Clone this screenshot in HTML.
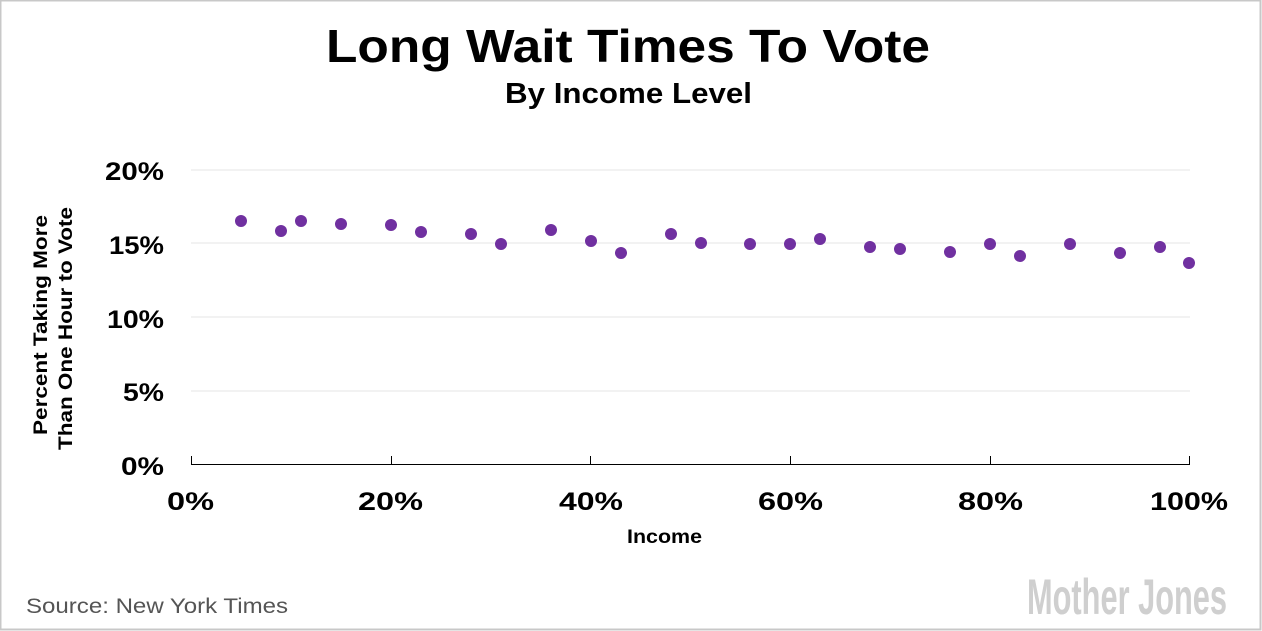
<!DOCTYPE html>
<html><head><meta charset="utf-8"><style>
html,body{margin:0;padding:0;background:#fff;}
svg{display:block;font-family:"Liberation Sans",sans-serif;}
</style></head><body>
<svg width="1262" height="631" viewBox="0 0 1262 631" xmlns="http://www.w3.org/2000/svg">
<rect x="0.5" y="0.5" width="1260" height="629" fill="#fff" stroke="#c8c8c8" stroke-width="2"/>
<text x="326" y="62" font-size="46" font-weight="bold" fill="#000" textLength="604" lengthAdjust="spacingAndGlyphs">Long Wait Times To Vote</text>
<text x="505" y="103" font-size="29" font-weight="bold" fill="#000" textLength="247" lengthAdjust="spacingAndGlyphs">By Income Level</text>
<g stroke="#e4e4e4" stroke-width="1">
<line x1="191" x2="1190" y1="170" y2="170"/>
<line x1="191" x2="1190" y1="243" y2="243"/>
<line x1="191" x2="1190" y1="317" y2="317"/>
<line x1="191" x2="1190" y1="391" y2="391"/>
</g>
<g stroke="#000" stroke-width="1">
<line x1="191" x2="1190" y1="464.5" y2="464.5"/>
<line x1="191.5" x2="191.5" y1="456" y2="464"/>
<line x1="391.5" x2="391.5" y1="456" y2="464"/>
<line x1="590.5" x2="590.5" y1="456" y2="464"/>
<line x1="790.5" x2="790.5" y1="456" y2="464"/>
<line x1="990.5" x2="990.5" y1="456" y2="464"/>
<line x1="1189.5" x2="1189.5" y1="456" y2="464"/>
</g>
<g font-size="25" font-weight="bold" fill="#000" lengthAdjust="spacingAndGlyphs">
<text x="105" y="180" textLength="59" lengthAdjust="spacingAndGlyphs">20%</text>
<text x="109" y="254" textLength="55" lengthAdjust="spacingAndGlyphs">15%</text>
<text x="107" y="328" textLength="57" lengthAdjust="spacingAndGlyphs">10%</text>
<text x="123" y="401" textLength="41" lengthAdjust="spacingAndGlyphs">5%</text>
<text x="121" y="475" textLength="43" lengthAdjust="spacingAndGlyphs">0%</text>
</g>
<g font-size="25" font-weight="bold" fill="#000">
<text x="167" y="510" textLength="47" lengthAdjust="spacingAndGlyphs">0%</text>
<text x="358" y="510" textLength="65" lengthAdjust="spacingAndGlyphs">20%</text>
<text x="559" y="510" textLength="64" lengthAdjust="spacingAndGlyphs">40%</text>
<text x="758" y="510" textLength="65" lengthAdjust="spacingAndGlyphs">60%</text>
<text x="958" y="510" textLength="65" lengthAdjust="spacingAndGlyphs">80%</text>
<text x="1150" y="510" textLength="78" lengthAdjust="spacingAndGlyphs">100%</text>
</g>
<text x="627" y="543" font-size="19" font-weight="bold" textLength="75" lengthAdjust="spacingAndGlyphs">Income</text>
<g font-size="19" font-weight="bold">
<text transform="translate(47,435) rotate(-90)" textLength="220" lengthAdjust="spacingAndGlyphs">Percent Taking More</text>
<text transform="translate(72,450) rotate(-90)" textLength="243" lengthAdjust="spacingAndGlyphs">Than One Hour to Vote</text>
</g>
<g fill="#7030a0">
<circle cx="241" cy="221" r="6"/>
<circle cx="281" cy="231" r="6"/>
<circle cx="301" cy="221" r="6"/>
<circle cx="341" cy="224" r="6"/>
<circle cx="391" cy="225" r="6"/>
<circle cx="421" cy="232" r="6"/>
<circle cx="471" cy="234" r="6"/>
<circle cx="501" cy="244" r="6"/>
<circle cx="551" cy="230" r="6"/>
<circle cx="591" cy="241" r="6"/>
<circle cx="621" cy="253" r="6"/>
<circle cx="671" cy="234" r="6"/>
<circle cx="701" cy="243" r="6"/>
<circle cx="750" cy="244" r="6"/>
<circle cx="790" cy="244" r="6"/>
<circle cx="820" cy="239" r="6"/>
<circle cx="870" cy="247" r="6"/>
<circle cx="900" cy="249" r="6"/>
<circle cx="950" cy="252" r="6"/>
<circle cx="990" cy="244" r="6"/>
<circle cx="1020" cy="256" r="6"/>
<circle cx="1070" cy="244" r="6"/>
<circle cx="1120" cy="253" r="6"/>
<circle cx="1160" cy="247" r="6"/>
<circle cx="1189" cy="263" r="6"/>
</g>
<text x="26" y="613" font-size="21" fill="#555" textLength="262" lengthAdjust="spacingAndGlyphs">Source: New York Times</text>
<text x="1027" y="614" font-size="50" font-weight="bold" fill="#cfcfcf" textLength="200" lengthAdjust="spacingAndGlyphs">Mother Jones</text>
</svg>
</body></html>
